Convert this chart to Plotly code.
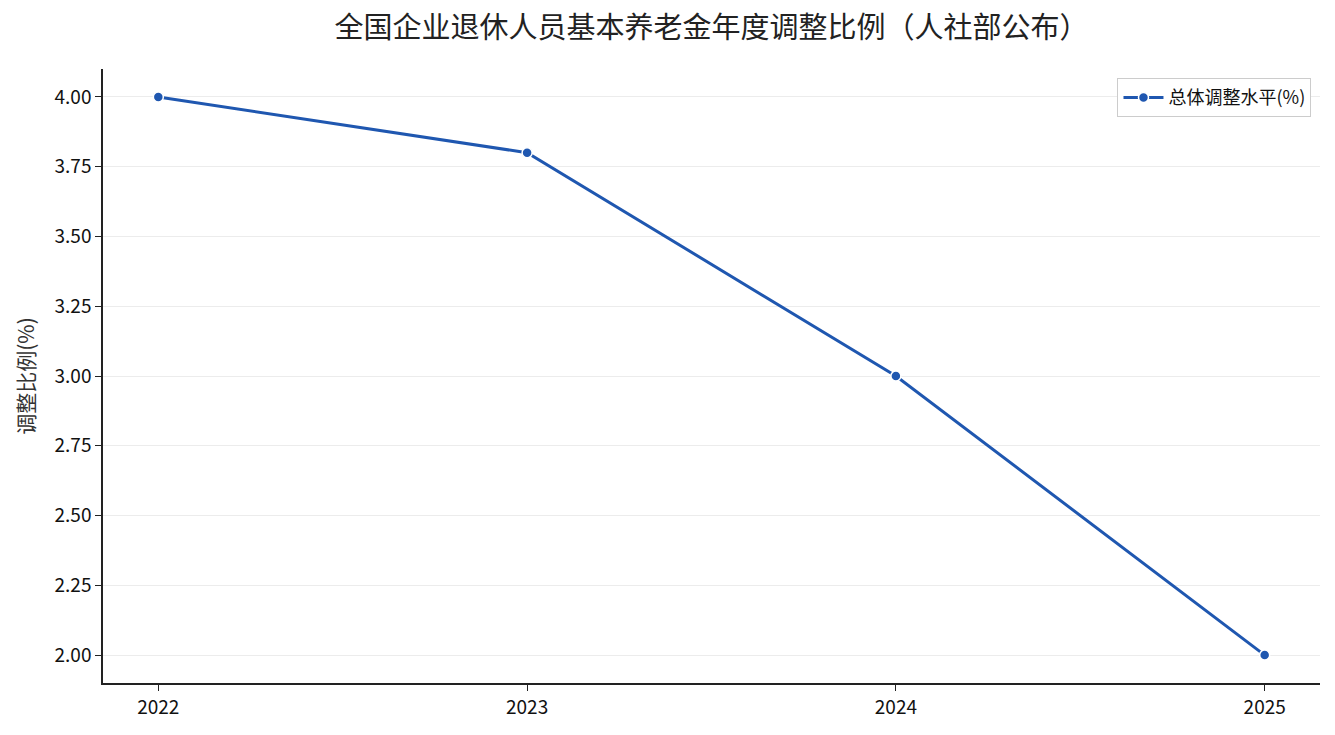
import plotly.graph_objects as go

years = [2022, 2023, 2024, 2025]
ratio = [4.0, 3.8, 3.0, 2.0]
y_ticks = [2.0, 2.25, 2.5, 2.75, 3.0, 3.25, 3.5, 3.75, 4.0]

font = "Noto Sans CJK SC"

fig = go.Figure()
fig.add_trace(go.Scatter(
    x=years, y=ratio, mode="lines+markers", name="总体调整水平(%)",
    line=dict(color="#1f57b0", width=3),
    marker=dict(size=10, color="#1f57b0", line=dict(color="white", width=1.5)),
))

# the page body adds ~8px offset, margins compensate for it
fig.update_layout(
    width=1335, height=735,
    margin=dict(l=95, r=23, t=61, b=60),
    paper_bgcolor="white", plot_bgcolor="white",
    font=dict(family=font, size=19, color="#222"),
    title=dict(text="全国企业退休人员基本养老金年度调整比例（人社部公布）",
               xref="paper", x=0.5, xanchor="center", y=0.973, yanchor="middle",
               font=dict(size=29, color="#222")),
    showlegend=True,
    legend=dict(x=0.993, y=0.985, xanchor="right", yanchor="top",
                bgcolor="white", bordercolor="#ccc", borderwidth=1,
                font=dict(size=18, color="#111"), itemwidth=40),
)
fig.update_xaxes(
    range=[2021.85, 2025.15], tickvals=years, ticktext=[str(y) for y in years],
    showgrid=False, showline=True, linecolor="#222", linewidth=1.5,
    ticks="outside", ticklen=6, tickcolor="#222", zeroline=False,
    tickfont=dict(size=19, color="#111"),
)
fig.update_yaxes(
    range=[1.9, 4.1], tickvals=y_ticks, ticktext=[f"{v:.2f}" for v in y_ticks],
    showgrid=True, gridcolor="#ececec", gridwidth=1,
    showline=True, linecolor="#222", linewidth=1.5,
    ticks="outside", ticklen=6, tickcolor="#222", zeroline=False,
    tickfont=dict(size=19, color="#111"),
    title=dict(text="调整比例(%)", font=dict(size=21, color="#333"), standoff=14),
)

fig.write_html("out.html")
